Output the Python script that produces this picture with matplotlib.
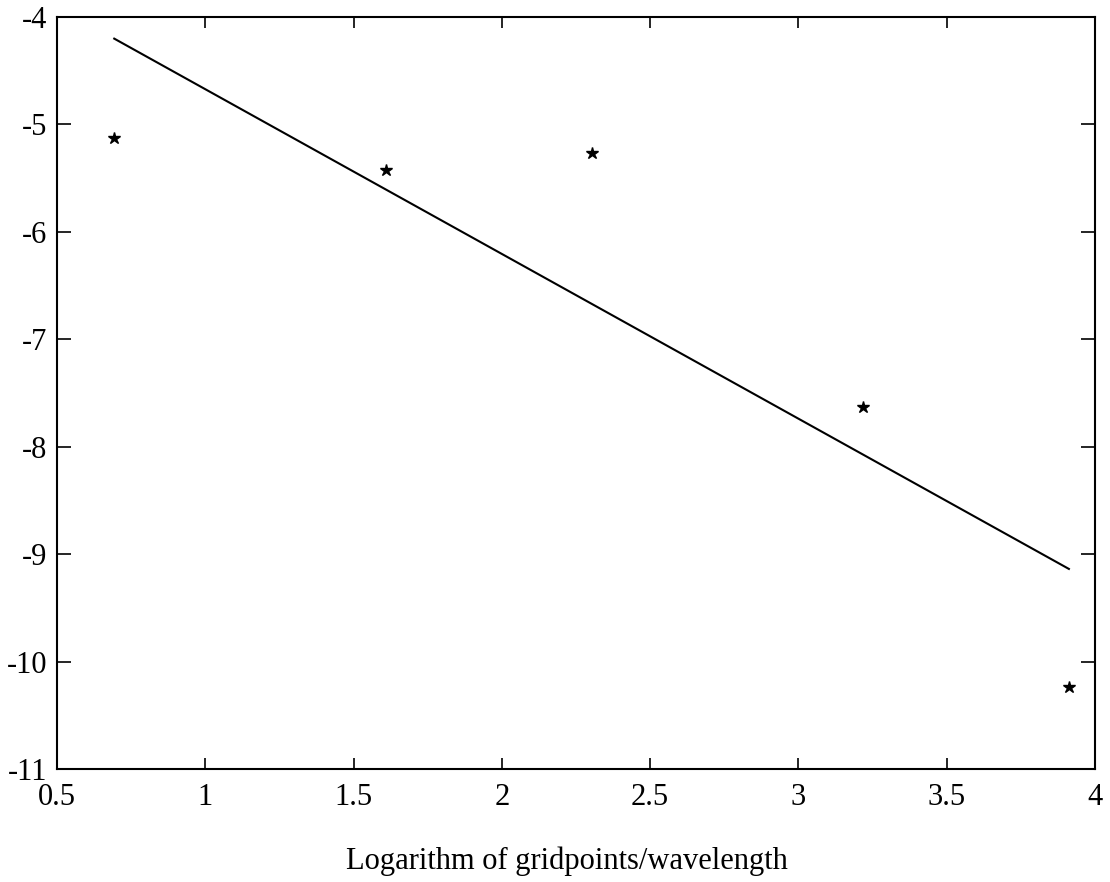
import numpy as np
import matplotlib
matplotlib.use("Agg")
import matplotlib.pyplot as plt

# log of gridpoints per wavelength and log of the measured error
log_ppw = [0.693, 1.609, 2.303, 3.219, 3.912]
log_err = [-5.13, -5.42, -5.27, -7.63, -10.24]

x_ticks = [0.5, 1, 1.5, 2, 2.5, 3, 3.5, 4]
x_labels = ["0.5", "1", "1.5", "2", "2.5", "3", "3.5", "4"]
y_ticks = [-11, -10, -9, -8, -7, -6, -5, -4]
y_labels = ["-11", "-10", "-9", "-8", "-7", "-6", "-5", "-4"]

plt.rcParams["font.family"] = ["Liberation Serif", "DejaVu Serif"]

# least squares line through the points
slope, icpt = np.polyfit(log_ppw, log_err, 1)
x_fit = np.array([log_ppw[0], log_ppw[-1]])
y_fit = slope * x_fit + icpt

fig = plt.figure(figsize=(11.1, 8.82), dpi=100)
ax = fig.add_axes([57 / 1110, 1 - 769 / 882, 1038 / 1110, 752 / 882])

ax.plot(log_ppw, log_err, linestyle="none", marker="*", markersize=9,
        color="black")
ax.plot(x_fit, y_fit, color="black", linewidth=1.5)

ax.set_xlim(0.5, 4)
ax.set_ylim(-11, -4)
ax.set_xticks(x_ticks)
ax.set_xticklabels(x_labels)
ax.set_yticks(y_ticks)
ax.set_yticklabels(y_labels)

ax.tick_params(direction="in", top=True, right=True, labelsize=22,
               width=1.2, color="black")
ax.tick_params(axis="x", length=8, pad=10)
ax.tick_params(axis="y", length=10, pad=7)
for sp in ax.spines.values():
    sp.set_linewidth(1.5)

ax.set_xlabel("Logarithm of gridpoints/wavelength", fontsize=22, labelpad=25)
ax.xaxis.label.set_x(0.491)

fig.savefig("out.png", dpi=100, facecolor="white")
